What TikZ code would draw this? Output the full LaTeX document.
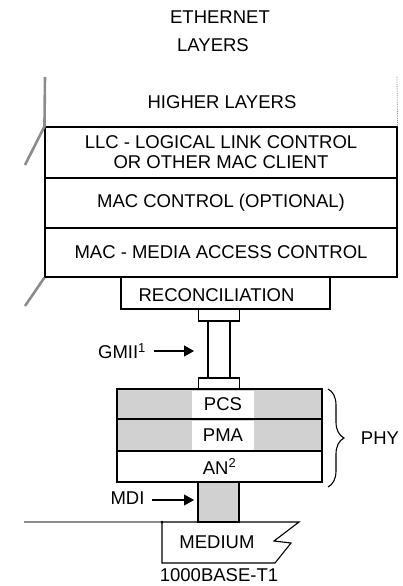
\documentclass[tikz,border=0pt]{standalone}
\usepackage{fontspec}
\setmainfont{Liberation Sans}
\usetikzlibrary{decorations.pathreplacing,arrows.meta}
\definecolor{shadefill}{gray}{0.82}
\definecolor{cutline}{gray}{0.55}
\begin{document}
\begin{tikzpicture}[x=1pt,y=-1pt,line width=1.1pt,
  every node/.style={font=\fontsize{18.5}{20}\selectfont,inner sep=0pt},
  layerbox/.style={draw,minimum width=352pt,align=center},
  phybox/.style={draw,minimum width=205pt},
  portbox/.style={draw,minimum width=41pt},
  pointer/.style={-{Triangle[length=10pt,width=11pt]},line width=1.2pt},
  cut/.style={draw=cutline,line width=2.6pt},
  wire/.style={draw=cutline,line width=2.6pt}]
\useasboundingbox (0,0) rectangle (403,586);

% title
\node (t1) at (220,17) {ETHERNET};
\node (t2) at (213,45) {LAYERS};

% upper layers
\node (higher) at (222,102) {HIGHER LAYERS};
\node[layerbox,minimum height=51pt] (llc) at (221,152.5)
  {LLC - LOGICAL LINK CONTROL\\OR OTHER MAC CLIENT};
\node[layerbox,minimum height=50pt] (macc) at (221,203) {MAC CONTROL (OPTIONAL)};
\node[layerbox,minimum height=49pt] (mac) at (221,252.5) {MAC - MEDIA ACCESS CONTROL};

% open edges of the stack
\draw[cut] (45,77) -- (llc.north west) -- (25,165);
\draw[cut] (mac.south west) -- (25,306);
\draw[cutline,line width=0.8pt,densely dotted] (397,77) -- (llc.north east);

% reconciliation and GMII
\node[draw,minimum width=209pt,minimum height=32pt] (recon) at (225.5,293) {};
\node (recontxt) at (216.5,295) {RECONCILIATION};
\node[portbox,minimum height=12pt] (gtop) at (219,315) {};
\node[portbox,minimum height=11pt] (gbot) at (219,383.5) {};
\draw ([xshift=-11pt]gtop.south) -- ([xshift=-11pt]gbot.north);
\draw ([xshift=11pt]gtop.south) -- ([xshift=11pt]gbot.north);

\node (gmii) at (122,351) {GMII\textsuperscript{1}};
\coordinate (gmiiend) at (194,351);
\draw[pointer] ([xshift=8pt]gmii.east) -- (gmiiend);

% PHY sublayers
\node[phybox,fill=shadefill,minimum height=30pt] (pcs) at (219.5,404) {};
\node[fill=white,minimum width=62pt,minimum height=27pt] (pcstxt) at (223,404.5) {PCS};
\node[phybox,fill=shadefill,minimum height=32pt] (pma) at (219.5,435) {};
\node[fill=white,minimum width=62pt,minimum height=29pt] (pmatxt) at (223,435.5) {PMA};
\node[phybox,minimum height=31pt] (an) at (219.5,466.5) {AN\textsuperscript{2}};

\draw[decorate,decoration={brace,amplitude=16pt}] (328,389) -- (328,487);
\node (phy) at (380,438) {PHY};

% MDI and medium
\node[portbox,fill=shadefill,minimum height=40pt] (mdi) at (218.5,502) {};
\node (mditxt) at (127.5,498) {MDI};
\coordinate (mdiend) at (194,500);
\draw[pointer] ([xshift=7pt,yshift=-2pt]mditxt.east) -- (mdiend);

\coordinate (medtl) at (162,522);
\coordinate (wireend) at (24,522);
\draw[wire] (wireend) -- (medtl);
\draw[line width=1.1pt] (medtl) -- (299,522) -- (274,541) -- (291,543)
  -- (275,563) -- (162,563) -- cycle;
\fill (medtl) circle (1.5pt);
\node (medium) at (217,542) {MEDIUM};
\node (phyname) at (219,575.5) {1000BASE-T1};
\end{tikzpicture}
\end{document}
